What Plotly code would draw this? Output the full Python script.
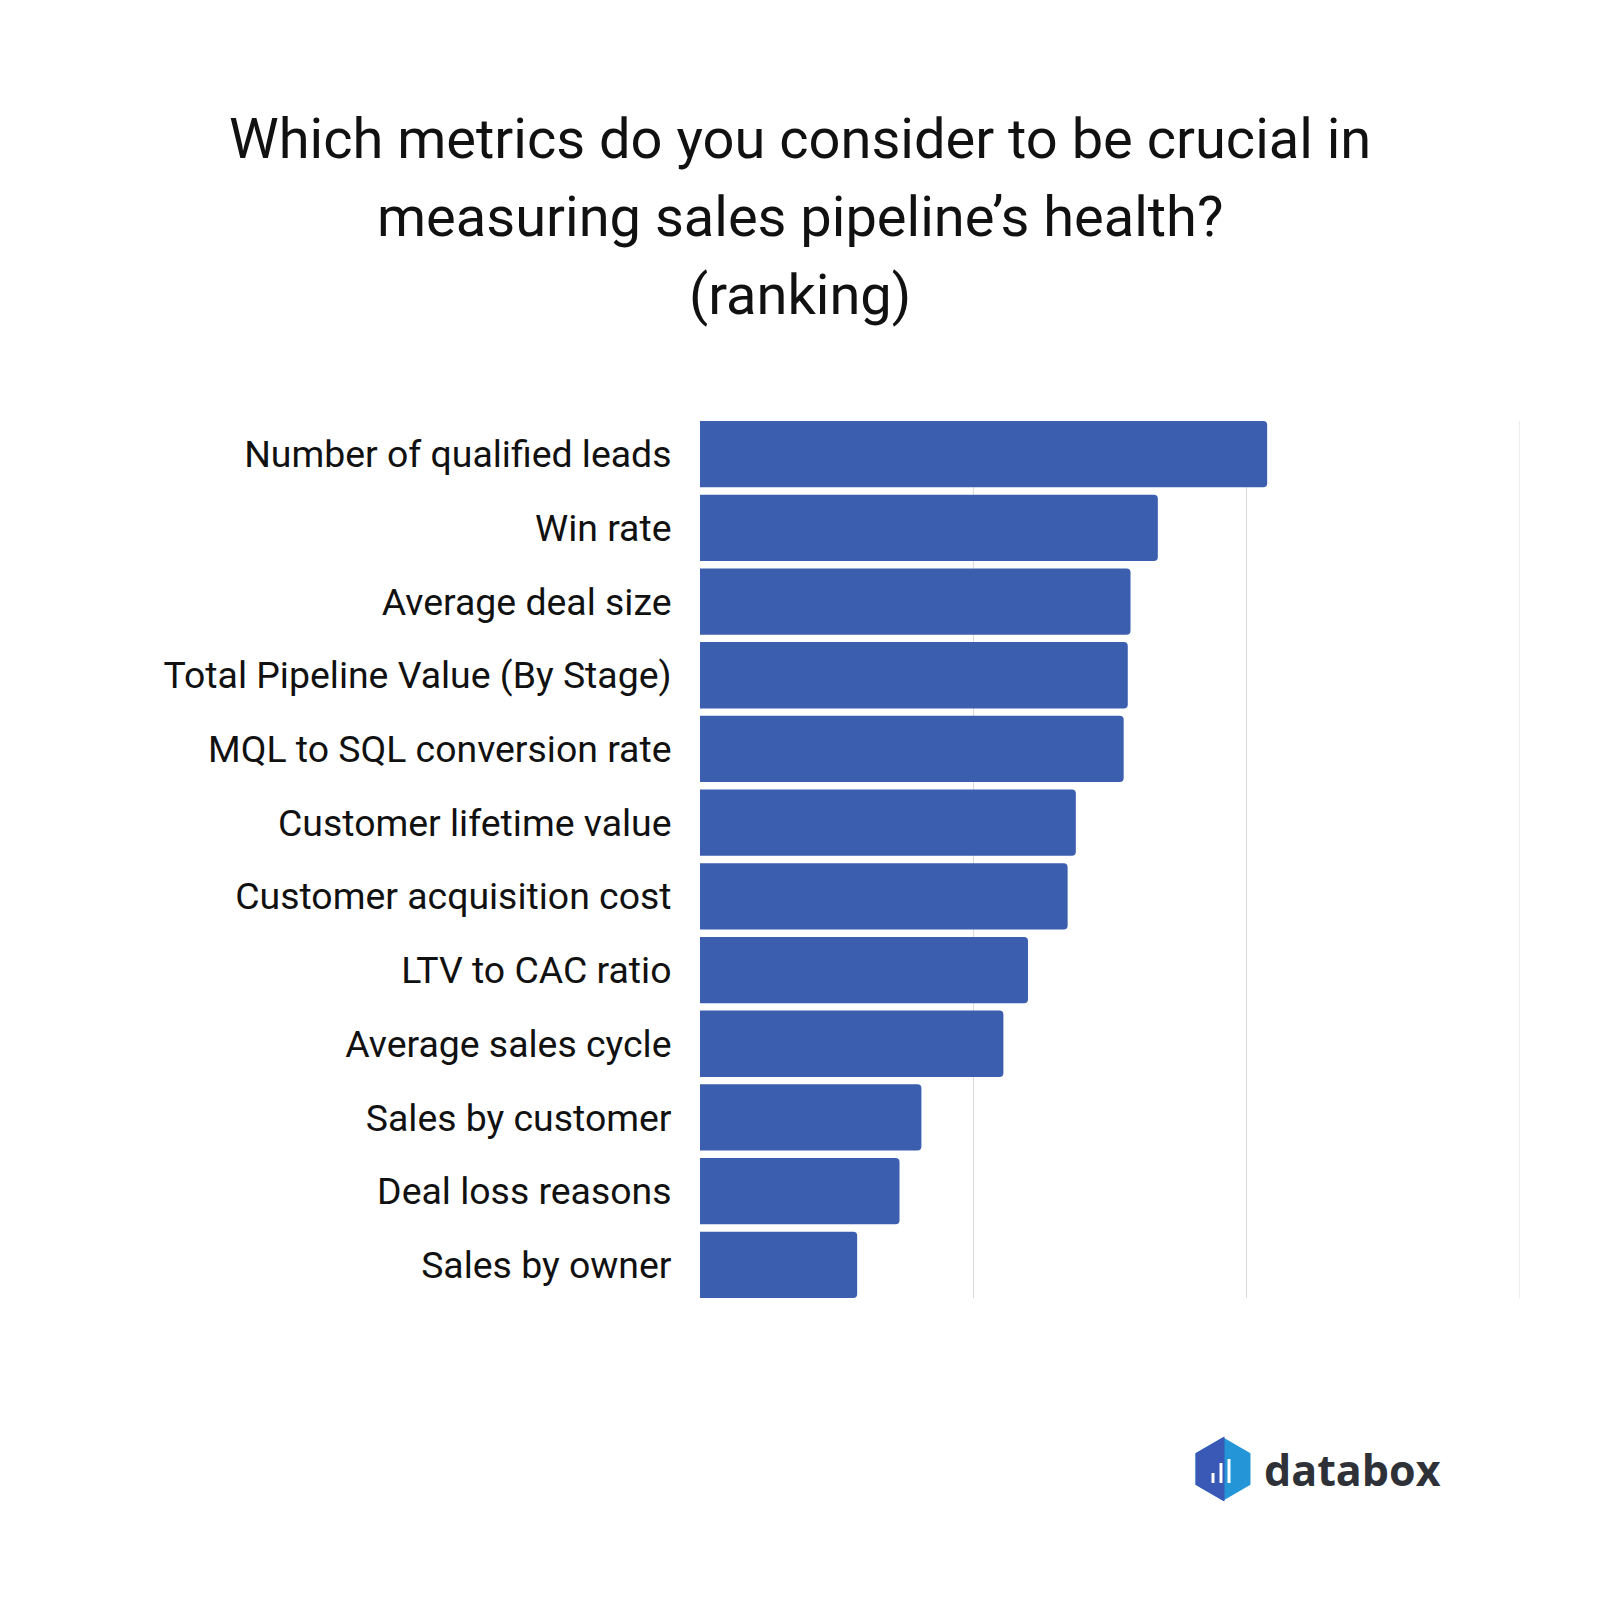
import plotly.graph_objects as go
import math

categories = [
    "Number of qualified leads",
    "Win rate",
    "Average deal size",
    "Total Pipeline Value (By Stage)",
    "MQL to SQL conversion rate",
    "Customer lifetime value",
    "Customer acquisition cost",
    "LTV to CAC ratio",
    "Average sales cycle",
    "Sales by customer",
    "Deal loss reasons",
    "Sales by owner",
]
values = [41.5, 33.5, 31.5, 31.3, 31.0, 27.5, 26.9, 24.0, 22.2, 16.2, 14.6, 11.5]
grid_values = [20, 40, 60]
title_lines = [
    "Which metrics do you consider to be crucial in",
    "measuring sales pipeline\u2019s health?",
    "(ranking)",
]
brand = "databox"

W, H = 1600, 1600
L, R, T, B = 700, 80, 421, 302
pw, ph = W - L - R, H - T - B
GAP = 0.1

def px(x):
    return (x - L) / pw

def py(y):
    return (H - B - y) / ph

fig = go.Figure(go.Bar(
    x=values, y=categories, orientation="h",
    marker=dict(color="#3B5EAF", line=dict(width=0)),
    hoverinfo="x+y",
))

n = len(categories)
fig.update_layout(
    width=W, height=H,
    margin=dict(l=L, r=R, t=T, b=B),
    paper_bgcolor="white", plot_bgcolor="white",
    bargap=GAP, barcornerradius=4,
    showlegend=False,
    font=dict(family="Roboto", color="#111111"),
    xaxis=dict(range=[0, 60], tickvals=grid_values, showgrid=True, gridcolor="#DADADA",
               gridwidth=1, showticklabels=False, zeroline=False,
               showline=False, fixedrange=True),
    yaxis=dict(range=[n - 0.5 - GAP / 2, -0.5 + GAP / 2],
               tickfont=dict(size=37.4, color="#111111"),
               ticks="outside", ticklen=20, tickcolor="rgba(0,0,0,0)",
               showgrid=False, zeroline=False, showline=False),
)

# gridline at the range end (plotly omits it at the edge)
fig.add_shape(type="line", xref="x", yref="paper", x0=grid_values[-1], x1=grid_values[-1],
              y0=0, y1=1, line=dict(color="#DADADA", width=1), layer="below")

# Title lines
title_y = [139, 217, 295]
for txt, yy in zip(title_lines, title_y):
    fig.add_annotation(text=txt, xref="paper", yref="paper",
                       x=px(800), y=py(yy), xanchor="center", yanchor="middle",
                       showarrow=False, font=dict(family="Roboto", size=56, color="#111111"))

# databox logo: hexagon
cx, cy, r = 1223, 1469, 30
pts = []
for a in [90, 30, -30, -90, -150, 150]:
    t = math.radians(a)
    pts.append((cx + r * math.cos(t), cy - r * math.sin(t)))
path = "M " + " L ".join(f"{px(x):.5f},{py(y):.5f}" for x, y in pts) + " Z"
fig.add_shape(type="path", path=path, xref="paper", yref="paper",
              fillcolor="#2496D8", line=dict(color="#2496D8", width=3))
left = [pts[3], pts[4], pts[5], pts[0]]
path2 = "M " + " L ".join(f"{px(x):.5f},{py(y):.5f}" for x, y in left) + " Z"
fig.add_shape(type="path", path=path2, xref="paper", yref="paper",
              fillcolor="#3A58B6", line=dict(color="#3A58B6", width=3))
for x0, x1, y0 in [(1211.5, 1214.5, 1473), (1219.5, 1222.5, 1463), (1227.5, 1230.5, 1459)]:
    fig.add_shape(type="rect", xref="paper", yref="paper",
                  x0=px(x0), x1=px(x1), y0=py(1483), y1=py(y0),
                  fillcolor="white", line=dict(width=0))
fig.add_annotation(text="<b>" + brand + "</b>", xref="paper", yref="paper",
                   x=px(1262), y=py(1469), xanchor="left", yanchor="middle",
                   showarrow=False, font=dict(family="Open Sans", size=43, color="#2E3238"))

fig.write_html("out.html")
